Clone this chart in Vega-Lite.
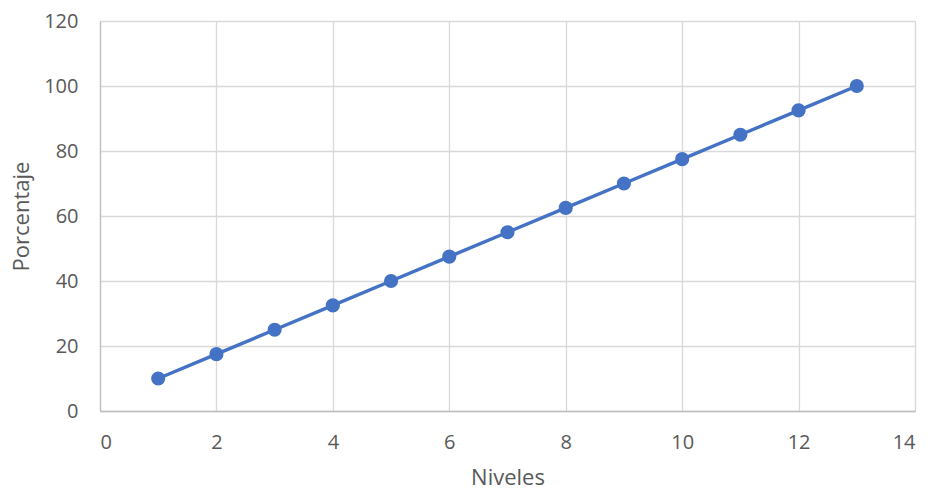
{
  "$schema": "https://vega.github.io/schema/vega-lite/v6.json",
  "autosize": "none",
  "width": 815,
  "height": 390,
  "padding": {"left": 100, "top": 21, "right": 15, "bottom": 80},
  "background": "white",
  "config": {
    "view": {"stroke": null},
    "font": "Open Sans"
  },
  "data": {
    "values": [
      {"nivel": 1, "pct": 10},
      {"nivel": 2, "pct": 17.5},
      {"nivel": 3, "pct": 25},
      {"nivel": 4, "pct": 32.5},
      {"nivel": 5, "pct": 40},
      {"nivel": 6, "pct": 47.5},
      {"nivel": 7, "pct": 55},
      {"nivel": 8, "pct": 62.5},
      {"nivel": 9, "pct": 70},
      {"nivel": 10, "pct": 77.5},
      {"nivel": 11, "pct": 85},
      {"nivel": 12, "pct": 92.5},
      {"nivel": 13, "pct": 100}
    ]
  },
  "encoding": {
    "x": {
      "field": "nivel", "type": "quantitative",
      "scale": {"domain": [0, 14], "nice": false, "zero": false},
      "axis": {
        "title": "Niveles", "values": [0, 2, 4, 6, 8, 10, 12, 14],
        "grid": true, "gridColor": "#d9d9d9", "gridWidth": 1.3,
        "domainColor": "#bfbfbf", "domainWidth": 1.3, "ticks": false,
        "labelPadding": 21, "labelFontSize": 20, "labelColor": "#595959",
        "titleFontSize": 22, "titleFontWeight": "normal", "titleColor": "#595959",
        "titlePadding": 15
      }
    },
    "y": {
      "field": "pct", "type": "quantitative",
      "scale": {"domain": [0, 120], "nice": false},
      "axis": {
        "title": "Porcentaje", "values": [0, 20, 40, 60, 80, 100, 120],
        "grid": true, "gridColor": "#d9d9d9", "gridWidth": 1.3,
        "domainColor": "#bfbfbf", "domainWidth": 1.3, "ticks": false,
        "labelPadding": 22, "labelFontSize": 20, "labelColor": "#595959",
        "titleFontSize": 22, "titleFontWeight": "normal", "titleColor": "#595959",
        "titlePadding": 10
      }
    }
  },
  "layer": [
    {"mark": {"type": "line", "color": "#4472C4", "strokeWidth": 3.5}},
    {"mark": {"type": "point", "filled": true, "opacity": 1, "color": "#4472C4", "size": 200}}
  ]
}
